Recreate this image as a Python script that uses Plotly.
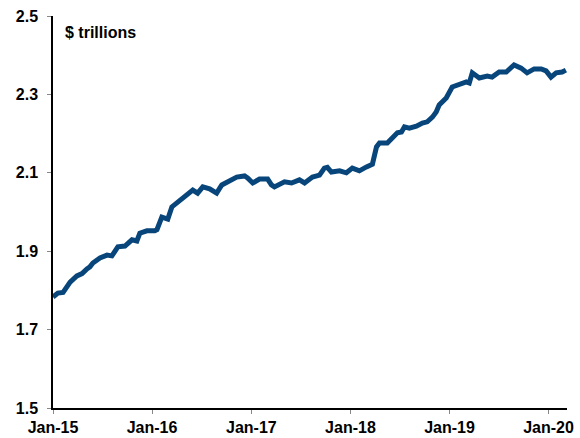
import plotly.graph_objects as go

dates = [
    "2015-01-01", "2015-01-19", "2015-02-07", "2015-03-05", "2015-03-30", "2015-04-18",
    "2015-05-06", "2015-05-17", "2015-05-28", "2015-06-23", "2015-07-19", "2015-08-06",
    "2015-08-28", "2015-09-23", "2015-10-19", "2015-11-06", "2015-11-17", "2015-12-13",
    "2016-01-11", "2016-01-19", "2016-02-06", "2016-02-28", "2016-03-14", "2016-04-01",
    "2016-04-23", "2016-05-12", "2016-05-30", "2016-06-17", "2016-07-06", "2016-07-31",
    "2016-08-26", "2016-09-14", "2016-10-06", "2016-11-08", "2016-12-07", "2016-12-18",
    "2017-01-06", "2017-01-31", "2017-03-02", "2017-03-16", "2017-03-27", "2017-04-15",
    "2017-05-03", "2017-05-29", "2017-06-27", "2017-07-16", "2017-08-14", "2017-09-09",
    "2017-09-27", "2017-10-08", "2017-10-23", "2017-11-22", "2017-12-17", "2018-01-08",
    "2018-02-03", "2018-03-01", "2018-03-23", "2018-04-07", "2018-04-18", "2018-05-17",
    "2018-06-05", "2018-06-23", "2018-07-08", "2018-07-19", "2018-08-06", "2018-09-01",
    "2018-09-23", "2018-10-11", "2018-10-30", "2018-11-13", "2018-11-24", "2018-12-20",
    "2019-01-11", "2019-02-06", "2019-03-04", "2019-03-15", "2019-03-26", "2019-04-21",
    "2019-05-20", "2019-06-07", "2019-07-03", "2019-07-29", "2019-08-27", "2019-09-22",
    "2019-10-14", "2019-11-09", "2019-12-05", "2019-12-23", "2020-01-10", "2020-01-29",
    "2020-02-20", "2020-03-05",
]

values = [
    1.783, 1.793, 1.795, 1.821, 1.837, 1.843,
    1.855, 1.860, 1.870, 1.883, 1.890, 1.888,
    1.911, 1.913, 1.929, 1.926, 1.946, 1.952,
    1.952, 1.955, 1.987, 1.982, 2.013, 2.023,
    2.036, 2.046, 2.056, 2.048, 2.064, 2.059,
    2.048, 2.069, 2.077, 2.089, 2.092, 2.087,
    2.074, 2.084, 2.084, 2.069, 2.064, 2.069,
    2.077, 2.074, 2.082, 2.074, 2.089, 2.094,
    2.112, 2.114, 2.102, 2.105, 2.100, 2.112,
    2.105, 2.115, 2.122, 2.166, 2.176, 2.176,
    2.189, 2.202, 2.204, 2.217, 2.214, 2.219,
    2.227, 2.230, 2.242, 2.255, 2.273, 2.291,
    2.319, 2.324, 2.332, 2.329, 2.355, 2.342,
    2.347, 2.344, 2.357, 2.357, 2.375, 2.367,
    2.355, 2.365, 2.365, 2.360, 2.344, 2.355,
    2.357, 2.362,
]

y_ticks = [1.5, 1.7, 1.9, 2.1, 2.3, 2.5]
unit_label = "$ trillions"

fig = go.Figure()
fig.add_trace(go.Scatter(
    x=dates, y=values, mode="lines",
    line=dict(color="#07457a", width=5),
    hoverinfo="skip",
))

FAM = "Liberation Sans, Arial, sans-serif"
tick_font = dict(family=FAM, size=16, color="#000000", weight="bold")

fig.update_layout(
    width=580, height=438,
    margin=dict(l=53, r=13, t=16, b=30, autoexpand=False),
    paper_bgcolor="white", plot_bgcolor="white",
    showlegend=False,
    font=dict(family=FAM, size=16, color="#000000"),
    xaxis=dict(
        range=["2015-01-01", "2020-03-09"],
        tickmode="linear", tick0="2015-01-01", dtick="M12",
        tickformat="%b-%y",
        showgrid=False, zeroline=False, automargin=False,
        showline=True, linecolor="#000000", linewidth=1.5,
        ticks="outside", ticklen=4, tickcolor="#888888", tickwidth=1,
        tickfont=tick_font,
    ),
    yaxis=dict(
        range=[1.5, 2.5],
        tickmode="array", tickvals=y_ticks, ticktext=[f"{v:.1f}" for v in y_ticks],
        showgrid=False, zeroline=False, automargin=False,
        showline=True, linecolor="#000000", linewidth=1.5,
        ticks="outside", ticklen=4, tickcolor="#888888", tickwidth=1,
        tickfont=tick_font, ticklabelstandoff=6,
    ),
    annotations=[dict(
        x=0.019, y=0.959, xref="paper", yref="paper",
        xanchor="left", yanchor="middle", showarrow=False,
        text=unit_label,
        font=tick_font,
    )],
)

fig.write_html("out.html")
